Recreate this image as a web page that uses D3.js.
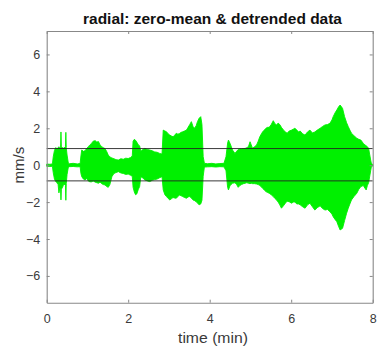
<!DOCTYPE html>
<html>
<head>
<meta charset="utf-8">
<script src="https://cdn.jsdelivr.net/npm/d3@7"></script>
<style>
  html, body { margin: 0; padding: 0; background: #fff; }
  svg { display: block; font-family: "Liberation Sans", Arial, Helvetica, sans-serif; }
</style>
</head>
<body>
<svg id="chart" width="378" height="348"></svg>
<script>
// Envelope of the radial velocity record (mm/s) against time (min)
const time = [
  0.00, 0.08, 0.14, 0.16, 0.19, 0.22, 0.25, 0.28, 0.30, 0.32, 0.34, 0.35, 0.36, 0.39, 0.42, 0.46, 0.47, 0.48, 0.50, 0.53,
  0.56, 0.65, 0.75, 0.82, 0.84, 0.86, 0.90, 0.94, 0.98, 1.02, 1.06, 1.10, 1.14, 1.19, 1.23, 1.27, 1.31, 1.35, 1.39, 1.43,
  1.47, 1.51, 1.55, 1.60, 1.65, 1.70, 1.76, 1.82, 1.88, 1.94, 2.00, 2.06, 2.10, 2.12, 2.15, 2.18, 2.21, 2.25, 2.28, 2.31,
  2.36, 2.41, 2.47, 2.53, 2.59, 2.65, 2.71, 2.77, 2.83, 2.86, 2.90, 2.94, 2.98, 3.02, 3.06, 3.10, 3.14, 3.18, 3.22, 3.26,
  3.30, 3.34, 3.38, 3.43, 3.47, 3.51, 3.55, 3.59, 3.63, 3.67, 3.70, 3.74, 3.78, 3.81, 3.84, 3.87, 3.95, 4.05, 4.15, 4.25,
  4.35, 4.40, 4.44, 4.46, 4.50, 4.56, 4.62, 4.66, 4.70, 4.74, 4.78, 4.83, 4.87, 4.91, 4.95, 4.99, 5.02, 5.05, 5.10, 5.15,
  5.19, 5.23, 5.27, 5.30, 5.34, 5.38, 5.42, 5.46, 5.51, 5.56, 5.60, 5.64, 5.68, 5.72, 5.76, 5.81, 5.86, 5.90, 5.95, 6.01,
  6.05, 6.09, 6.14, 6.18, 6.22, 6.28, 6.34, 6.40, 6.46, 6.52, 6.58, 6.64, 6.71, 6.77, 6.83, 6.89, 6.95, 7.00, 7.03, 7.08,
  7.12, 7.16, 7.20, 7.26, 7.31, 7.36, 7.40, 7.44, 7.48, 7.54, 7.61, 7.66, 7.71, 7.77, 7.81, 7.84, 7.87, 7.90, 7.95, 7.97,
  8.00
];
const upper = [
  0.06, 0.05, 0.07, 0.45, 0.80, 0.95, 0.90, 0.93, 1.00, 0.95, 0.98, 1.80, 1.00, 0.95, 0.92, 1.00, 1.78, 0.95, 0.55, 0.12,
  0.08, 0.10, 0.07, 0.09, 0.50, 0.82, 0.75, 0.78, 0.90, 1.00, 1.10, 1.18, 1.30, 1.33, 1.25, 1.28, 1.10, 1.00, 0.95, 0.90,
  0.75, 0.55, 0.45, 0.39, 0.35, 0.30, 0.28, 0.35, 0.32, 0.38, 0.36, 0.42, 0.50, 1.30, 1.40, 1.35, 1.25, 1.10, 1.05, 0.75,
  0.85, 0.91, 0.85, 0.82, 0.78, 0.72, 0.70, 0.64, 0.60, 1.90, 1.85, 1.81, 1.70, 1.63, 1.58, 1.54, 1.62, 1.73, 1.68, 1.72,
  1.78, 1.81, 1.85, 1.90, 2.05, 2.20, 2.36, 2.10, 2.00, 2.15, 2.36, 2.54, 2.63, 2.20, 0.46, 0.10, 0.08, 0.10, 0.07, 0.09,
  0.10, 0.46, 1.20, 1.36, 1.18, 0.82, 0.64, 0.75, 0.85, 0.88, 0.88, 0.90, 0.91, 0.95, 1.00, 1.27, 1.10, 0.92, 1.00, 1.09,
  1.30, 1.54, 1.70, 1.81, 1.90, 2.00, 2.05, 2.05, 2.20, 2.41, 2.25, 2.18, 2.28, 2.20, 2.05, 1.90, 1.80, 1.73, 1.85, 1.90,
  1.95, 2.00, 1.90, 1.80, 1.85, 1.70, 1.63, 1.80, 1.90, 1.75, 1.80, 1.90, 2.00, 2.10, 2.18, 2.20, 2.27, 2.45, 2.63, 2.85,
  2.99, 3.15, 3.26, 3.08, 2.63, 2.30, 2.09, 1.90, 1.73, 1.60, 1.46, 1.40, 1.36, 1.18, 1.10, 1.05, 1.00, 0.91, 0.28, 0.06,
  0.05
];
const lower = [
  -0.06, -0.07, -0.06, -0.40, -0.75, -0.88, -0.95, -1.05, -1.50, -1.25, -1.30, -1.88, -1.30, -1.20, -1.00, -1.10, -1.90, -1.00, -0.50, -0.12,
  -0.08, -0.07, -0.09, -0.08, -0.45, -0.62, -0.75, -0.80, -0.72, -0.85, -0.90, -0.90, -0.85, -0.92, -0.95, -0.98, -0.92, -1.00, -1.05, -1.07,
  -1.15, -1.20, -1.05, -0.62, -0.45, -0.40, -0.35, -0.42, -0.45, -0.50, -0.48, -0.55, -0.60, -1.20, -1.45, -1.60, -1.56, -1.30, -1.16, -0.62,
  -0.70, -0.80, -0.85, -0.89, -0.82, -0.78, -0.75, -0.68, -0.62, -1.34, -1.60, -1.70, -1.80, -1.88, -1.82, -1.75, -1.78, -1.79, -1.70, -1.61,
  -1.66, -1.70, -1.75, -1.79, -1.72, -1.70, -1.78, -1.88, -1.92, -1.98, -2.05, -2.15, -2.10, -1.90, -0.60, -0.10, -0.09, -0.08, -0.10, -0.08,
  -0.09, -0.30, -1.20, -1.34, -1.10, -0.98, -0.95, -1.05, -1.20, -1.10, -1.05, -1.00, -0.98, -0.95, -0.98, -1.00, -0.98, -1.00, -1.00, -1.02,
  -1.05, -1.10, -1.18, -1.25, -1.35, -1.43, -1.48, -1.52, -1.60, -1.70, -1.80, -1.88, -2.00, -2.15, -2.33, -2.20, -2.05, -1.95, -1.98, -2.06,
  -2.00, -2.00, -2.10, -2.10, -2.15, -2.25, -2.33, -2.15, -2.06, -2.25, -2.43, -2.30, -2.20, -2.35, -2.43, -2.40, -2.52, -2.65, -2.79, -2.95,
  -3.06, -3.30, -3.51, -3.42, -3.00, -2.60, -2.33, -2.10, -1.88, -1.70, -1.52, -1.30, -1.16, -1.10, -1.25, -1.34, -1.10, -0.95, -0.30, -0.06,
  -0.05
];
// Threshold levels drawn as horizontal reference lines
const thresholds = [0.9, -0.85];

const xTicks = [0, 2, 4, 6, 8];
const yTicks = [-6, -4, -2, 0, 2, 4, 6];

const titleText = "radial: zero-mean & detrended data";
const xLabel = "time (min)";
const yLabel = "mm/s";

const svg = d3.select("#chart");
const plotLeft = 46.7, plotRight = 372.7, plotTop = 31, plotBottom = 302.7;

const x = d3.scaleLinear().domain([0, 8]).range([plotLeft, plotRight]);
const y = d3.scaleLinear().domain([-7.45, 7.27]).range([plotBottom, plotTop]);

const rows = time.map((t, i) => ({ t, hi: upper[i], lo: lower[i] }));

// Signal envelope
svg.append("path")
  .datum(rows)
  .attr("fill", "#00f000")
  .attr("stroke", "#00f000")
  .attr("stroke-width", 0.9)
  .attr("d", d3.area()
    .x(d => x(d.t))
    .y0(d => y(d.lo))
    .y1(d => y(d.hi)));

// Threshold lines
svg.selectAll("line.thr")
  .data(thresholds)
  .join("line")
  .attr("class", "thr")
  .attr("x1", x(0)).attr("x2", x(8))
  .attr("y1", d => y(d)).attr("y2", d => y(d))
  .attr("stroke", "#222")
  .attr("stroke-width", 0.9);

// Axes with inward ticks on all four sides
const axisColor = "#888";
const textColor = "#3a3a3a";
function styleAxis(g) {
  g.select(".domain").attr("stroke", axisColor).attr("stroke-width", 1.1);
  g.selectAll(".tick line").attr("stroke", axisColor);
  g.selectAll(".tick text").attr("fill", textColor).attr("font-size", 12.5);
}

svg.append("g")
  .attr("transform", `translate(0,${plotBottom})`)
  .call(d3.axisBottom(x).tickValues(xTicks).tickSizeInner(-3).tickSizeOuter(0).tickPadding(11.5))
  .call(styleAxis);

svg.append("g")
  .attr("transform", `translate(0,${plotTop})`)
  .call(d3.axisTop(x).tickValues(xTicks).tickSizeInner(-3).tickSizeOuter(0).tickFormat(""))
  .call(styleAxis);

svg.append("g")
  .attr("transform", `translate(${plotLeft},0)`)
  .call(d3.axisLeft(y).tickValues(yTicks).tickSizeInner(-3).tickSizeOuter(0).tickPadding(6.5))
  .call(styleAxis);

svg.append("g")
  .attr("transform", `translate(${plotRight},0)`)
  .call(d3.axisRight(y).tickValues(yTicks).tickSizeInner(-3).tickSizeOuter(0).tickFormat(""))
  .call(styleAxis);

// Title and axis labels
svg.append("text")
  .attr("x", 212.5).attr("y", 23.5)
  .attr("text-anchor", "middle")
  .attr("font-size", 15)
  .attr("font-weight", "bold")
  .attr("fill", "#111")
  .attr("textLength", 259)
  .attr("lengthAdjust", "spacingAndGlyphs")
  .text(titleText);

svg.append("text")
  .attr("x", 213).attr("y", 342.5)
  .attr("text-anchor", "middle")
  .attr("font-size", 15)
  .attr("fill", textColor)
  .attr("textLength", 70)
  .attr("lengthAdjust", "spacingAndGlyphs")
  .text(xLabel);

svg.append("text")
  .attr("transform", `translate(23.5,${y(0)}) rotate(-90)`)
  .attr("text-anchor", "middle")
  .attr("font-size", 15)
  .attr("fill", textColor)
  .text(yLabel);
</script>
</body>
</html>
